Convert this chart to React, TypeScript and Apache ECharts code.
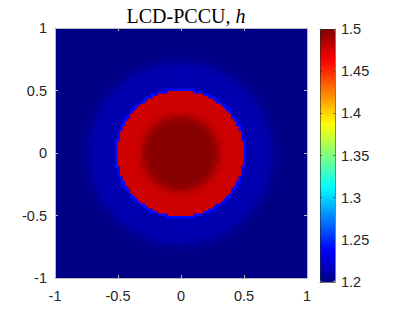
import React, { useEffect, useRef } from 'react';
import * as echarts from 'echarts';

// grid resolution of the field (cells per side)
const gridCells = 100;
// axis ticks
const axisMin = -1;
const axisMax = 1;
const axisInterval = 0.5;
// colour range
const colorMin = 1.2;
const colorMax = 1.5;
const colorInterval = 0.05;
// jet colormap, evenly spaced stops
const jetColors = ['#000086', '#0000FF', '#0080FF', '#00FFFF', '#80FF80', '#FFFF00', '#FF8000', '#FF0000', '#800000'];
// radial profile of h: value for r in [k*step, (k+1)*step)
const radialStep = 0.025;
const radialProfile = [
  1.498, 1.498, 1.498, 1.498, 1.498, 1.498, 1.498, 1.498, 1.498, 1.497,
  1.495, 1.490, 1.484, 1.480, 1.478, 1.477, 1.477, 1.477, 1.477, 1.477,
  1.240, 1.213, 1.213, 1.213, 1.213, 1.213, 1.213, 1.212, 1.210, 1.206,
  1.203, 1.201, 1.2,
];

function buildCells() {
  const cells: number[][] = [];
  for (let j = 0; j < gridCells; j++) {
    for (let i = 0; i < gridCells; i++) {
      const x = axisMin + ((i + 0.5) * (axisMax - axisMin)) / gridCells;
      const y = axisMin + ((j + 0.5) * (axisMax - axisMin)) / gridCells;
      const r = Math.sqrt(x * x + y * y);
      const k = Math.min(radialProfile.length - 1, Math.floor(r / radialStep));
      cells.push([i, j, radialProfile[k]]);
    }
  }
  return cells;
}

const FONT = 'Liberation Sans, Arial, sans-serif';
const SERIF = '"Liberation Serif", "Times New Roman", serif';
const AX = '#262626';
const BOX = '#b8b8b8';
const LABEL_SIZE = 14.5;

export default function App() {
  const ref = useRef<HTMLDivElement>(null);
  useEffect(() => {
    const chart = echarts.init(ref.current!, undefined, { renderer: 'svg' });
    const idx = Array.from({ length: gridCells }, (_, i) => String(i));
    const valueAxis = (gridIndex: number, position: string, labels: boolean, margin: number) => ({
      type: 'value',
      gridIndex,
      position,
      min: axisMin,
      max: axisMax,
      interval: axisInterval,
      z: 10,
      axisLine: { show: true, onZero: false, lineStyle: { color: BOX, width: 1 } },
      axisTick: { show: true, inside: true, length: 3, lineStyle: { color: BOX } },
      axisLabel: { show: labels, color: AX, fontFamily: FONT, fontSize: LABEL_SIZE, margin },
      splitLine: { show: false },
    });
    const cbFrame = (position: string) => ({
      type: 'value', gridIndex: 1, min: 0, max: 1, position, z: 10,
      axisLine: { show: true, onZero: false, lineStyle: { color: AX, width: 0.6 } },
      axisTick: { show: false }, axisLabel: { show: false }, splitLine: { show: false },
    });
    const cbAxis = (position: string, labels: boolean) => ({
      type: 'value', gridIndex: 1, position, min: colorMin, max: colorMax, interval: colorInterval, z: 10,
      axisLine: { show: true, onZero: false, lineStyle: { color: AX, width: 0.6 } },
      axisTick: { show: true, inside: true, length: 2, lineStyle: { color: AX, width: 0.6 } },
      axisLabel: { show: labels, color: AX, fontFamily: FONT, fontSize: LABEL_SIZE, margin: 6 },
      splitLine: { show: false },
    });
    const option: any = {
      animation: false,
      title: {
        text: '{a|LCD-PCCU, }{b|h}',
        left: 181,
        textAlign: 'center',
        top: 1,
        textStyle: {
          fontWeight: 'normal',
          rich: {
            a: { fontFamily: SERIF, fontSize: 20, fontWeight: 'normal', color: '#000' },
            b: { fontFamily: SERIF, fontSize: 20, fontWeight: 'normal', fontStyle: 'italic', color: '#000' },
          },
        },
      },
      grid: [
        { left: 55, top: 28, width: 252, height: 250, containLabel: false },
        { left: 320, top: 29, width: 15, height: 253, containLabel: false },
      ],
      xAxis: [
        { type: 'category', gridIndex: 0, data: idx, show: false, position: 'bottom' },
        valueAxis(0, 'bottom', true, 10),
        valueAxis(0, 'top', false, 8),
        cbFrame('bottom'),
        cbFrame('top'),
      ],
      yAxis: [
        { type: 'category', gridIndex: 0, data: idx, show: false, position: 'left' },
        valueAxis(0, 'left', true, 8),
        valueAxis(0, 'right', false, 8),
        cbAxis('right', true),
        cbAxis('left', false),
      ],
      visualMap: {
        type: 'continuous',
        seriesIndex: 0,
        dimension: 2,
        min: colorMin,
        max: colorMax,
        calculable: false,
        realtime: false,
        left: 320,
        top: 29,
        itemWidth: 15,
        itemHeight: 253,
        padding: 0,
        text: null,
        showLabel: false,
        inRange: { color: jetColors },
      },
      series: [
        {
          type: 'custom',
          coordinateSystem: 'cartesian2d',
          xAxisIndex: 0,
          yAxisIndex: 0,
          data: buildCells(),
          encode: { x: 0, y: 1 },
          clip: true,
          progressive: 0,
          silent: true,
          renderItem: (_params: any, api: any) => {
            const c = api.coord([api.value(0), api.value(1)]);
            const s = api.size([1, 1]);
            return {
              type: 'rect',
              shape: { x: c[0] - s[0] / 2 - 0.5, y: c[1] - s[1] / 2 - 0.5, width: s[0] + 1, height: s[1] + 1 },
              style: { fill: api.visual('color') },
            };
          },
        },
      ],
    };
    chart.setOption(option);
    return () => chart.dispose();
  }, []);
  return (
    <div
      ref={ref}
      style={{ position: 'absolute', left: 0, top: 0, width: 393, height: 311, background: '#fff' }}
    />
  );
}
